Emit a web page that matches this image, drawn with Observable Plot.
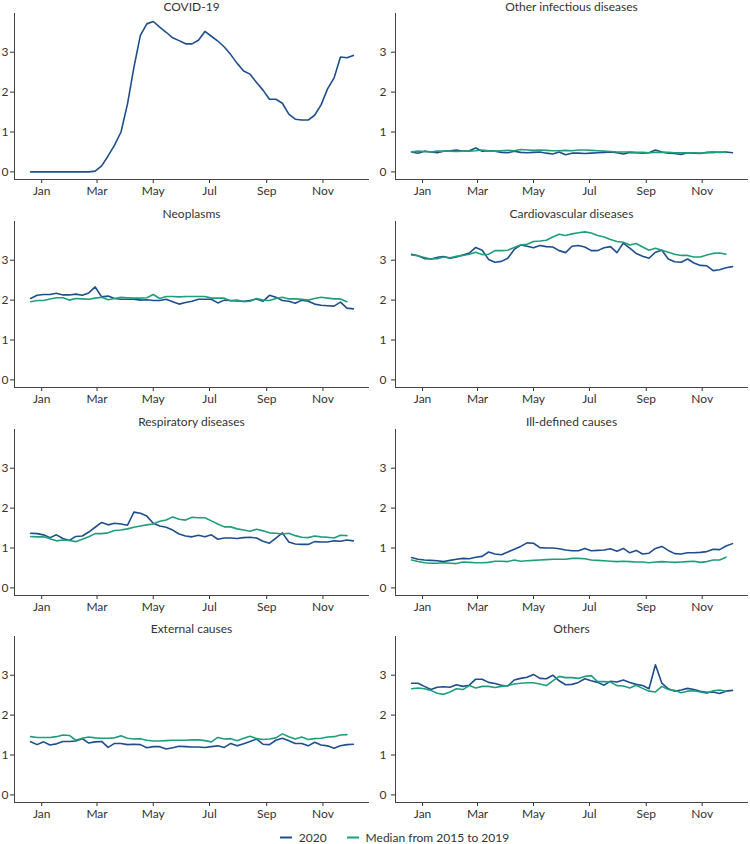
<!DOCTYPE html>
<html>
<head>
<meta charset="utf-8">
<script src="https://cdn.jsdelivr.net/npm/d3@7"></script>
<script src="https://cdn.jsdelivr.net/npm/@observablehq/plot@0.6"></script>
<style>
  html, body { margin: 0; padding: 0; background: #fff; }
  #root { position: relative; width: 750px; height: 844px; overflow: hidden; font-family: Lato, "Open Sans", sans-serif; color: #333; }
  .ptitle { position: absolute; text-align: center; font-size: 12px; line-height: 13px; color: #333; white-space: nowrap; }
  .panel { position: absolute; }
  #legend { position: absolute; top: 831px; left: 0; width: 789px; height: 13px; display: flex; justify-content: center; align-items: center; font-size: 12px; line-height: 13px; color: #333; }
  #legend .item { display: flex; align-items: center; }
</style>
</head>
<body>
<div id="root"></div>
<script>
// ---- weekly dates (x) ----
const weeks = ["2019-12-20","2019-12-27","2020-01-03","2020-01-10","2020-01-17","2020-01-24","2020-01-31","2020-02-07","2020-02-14","2020-02-21",
  "2020-02-28","2020-03-06","2020-03-13","2020-03-20","2020-03-27","2020-04-03","2020-04-10","2020-04-17","2020-04-24","2020-05-01",
  "2020-05-08","2020-05-15","2020-05-22","2020-05-29","2020-06-05","2020-06-12","2020-06-19","2020-06-26","2020-07-03","2020-07-10",
  "2020-07-17","2020-07-24","2020-07-31","2020-08-07","2020-08-14","2020-08-21","2020-08-28","2020-09-04","2020-09-11","2020-09-18",
  "2020-09-25","2020-10-02","2020-10-09","2020-10-16","2020-10-23","2020-10-30","2020-11-06","2020-11-13","2020-11-20","2020-11-27",
  "2020-12-04"];
const monthTicks = ["2020-01-01","2020-03-01","2020-05-01","2020-07-01","2020-09-01","2020-11-01"];
const yTicks = [0, 1, 2, 3];
const seriesNames = ["2020", "Median from 2015 to 2019"];
const seriesColors = ["#1f4e8c", "#1f9e7a"];
const panelTitles = ["COVID-19","Other infectious diseases","Neoplasms","Cardiovascular diseases","Respiratory diseases","Ill-defined causes","External causes","Others"];

// ---- series values ----
const covid2020 = [0,0,0,0,0,0,0,0,0,0, 0.02,0.15,0.4,0.67,1.0,1.7,2.62,3.42,3.71,3.77, 3.63,3.5,3.36,3.29,3.21,3.21,3.3,3.52,3.4,3.28,
  3.13,2.94,2.72,2.53,2.45,2.24,2.05,1.82,1.82,1.72, 1.45,1.32,1.3,1.3,1.42,1.68,2.08,2.35,2.88,2.86, 2.92];
const covidMedian = [];

const otherInf2020 = [0.5,0.47,0.52,0.5,0.48,0.52,0.53,0.55,0.52,0.53, 0.6,0.52,0.53,0.52,0.49,0.48,0.52,0.49,0.48,0.49,
  0.5,0.47,0.45,0.5,0.43,0.47,0.47,0.46,0.47,0.48, 0.49,0.5,0.48,0.45,0.49,0.48,0.47,0.48,0.55,0.5,
  0.47,0.46,0.44,0.48,0.47,0.46,0.49,0.5,0.49,0.5, 0.48];
const otherInfMedian = [0.5,0.52,0.51,0.5,0.52,0.52,0.52,0.51,0.52,0.52, 0.53,0.55,0.53,0.52,0.53,0.54,0.53,0.56,0.55,0.54,
  0.55,0.54,0.53,0.53,0.54,0.53,0.55,0.55,0.54,0.53, 0.52,0.51,0.5,0.5,0.5,0.49,0.49,0.48,0.49,0.49,
  0.49,0.48,0.48,0.48,0.48,0.47,0.48,0.48,0.5,0.49];

const neo2020 = [2.04,2.12,2.14,2.14,2.17,2.13,2.13,2.15,2.12,2.18, 2.33,2.08,2.1,2.04,2.02,2.02,2.02,2.0,2.01,1.99,
  1.99,2.02,1.96,1.9,1.94,1.97,2.02,2.02,2.02,1.93, 2.0,1.99,1.98,1.97,1.99,2.03,1.97,2.12,2.07,1.99,
  1.97,1.92,2.0,1.97,1.9,1.87,1.86,1.85,1.95,1.8, 1.78];
const neoMedian = [1.96,1.99,1.99,2.03,2.06,2.06,2.0,2.04,2.03,2.02, 2.05,2.07,2.01,2.04,2.07,2.06,2.05,2.05,2.06,2.14,
  2.04,2.09,2.09,2.08,2.09,2.09,2.09,2.09,2.05,2.05, 2.05,1.98,2.0,1.96,1.97,2.04,2.0,1.99,2.04,2.07,
  2.03,2.03,2.02,2.0,2.04,2.07,2.05,2.03,2.03,1.96];

const cardio2020 = [3.15,3.11,3.04,3.03,3.07,3.09,3.05,3.08,3.13,3.18, 3.32,3.25,3.02,2.95,2.97,3.05,3.27,3.38,3.35,3.31,
  3.37,3.34,3.33,3.24,3.19,3.35,3.37,3.33,3.24,3.24, 3.31,3.34,3.19,3.43,3.3,3.17,3.1,3.05,3.2,3.25,
  3.03,2.96,2.95,3.03,2.93,2.87,2.86,2.74,2.76,2.81, 2.84];
const cardioMedian = [3.13,3.11,3.07,3.03,3.04,3.08,3.06,3.1,3.12,3.15, 3.2,3.14,3.15,3.24,3.24,3.25,3.32,3.38,3.4,3.47,
  3.48,3.5,3.58,3.65,3.62,3.66,3.69,3.71,3.68,3.62, 3.58,3.52,3.47,3.45,3.38,3.42,3.33,3.25,3.3,3.25,
  3.2,3.15,3.12,3.12,3.08,3.08,3.13,3.17,3.18,3.15];

const resp2020 = [1.37,1.36,1.33,1.26,1.33,1.24,1.19,1.29,1.3,1.4, 1.52,1.64,1.58,1.62,1.6,1.57,1.9,1.87,1.8,1.62,
  1.55,1.52,1.45,1.35,1.3,1.28,1.32,1.28,1.33,1.22, 1.25,1.25,1.24,1.26,1.27,1.25,1.17,1.12,1.25,1.38,
  1.15,1.1,1.09,1.09,1.16,1.15,1.15,1.18,1.17,1.2, 1.18];
const respMedian = [1.29,1.28,1.28,1.23,1.18,1.2,1.19,1.16,1.22,1.28, 1.36,1.36,1.38,1.44,1.45,1.48,1.52,1.55,1.58,1.6,
  1.67,1.7,1.78,1.72,1.7,1.77,1.76,1.76,1.68,1.6, 1.53,1.53,1.48,1.45,1.42,1.47,1.43,1.38,1.37,1.35,
  1.37,1.31,1.27,1.26,1.3,1.28,1.27,1.25,1.32,1.31];

const illDef2020 = [0.76,0.72,0.7,0.69,0.68,0.66,0.69,0.72,0.74,0.73, 0.77,0.79,0.9,0.85,0.83,0.9,0.97,1.04,1.13,1.12,
  1.01,1.0,1.0,0.98,0.95,0.93,0.93,0.99,0.93,0.94, 0.95,0.98,0.92,0.99,0.88,0.94,0.85,0.87,0.99,1.04,
  0.94,0.86,0.85,0.88,0.88,0.89,0.91,0.97,0.96,1.05, 1.11];
const illDefMedian = [0.7,0.66,0.63,0.62,0.62,0.63,0.62,0.61,0.65,0.64, 0.63,0.63,0.64,0.67,0.67,0.66,0.7,0.67,0.68,0.69,
  0.7,0.71,0.72,0.72,0.72,0.74,0.74,0.73,0.7,0.69, 0.68,0.67,0.66,0.67,0.66,0.65,0.65,0.63,0.65,0.66,
  0.65,0.64,0.65,0.66,0.67,0.64,0.66,0.7,0.7,0.77];

const ext2020 = [1.33,1.26,1.33,1.25,1.28,1.34,1.34,1.35,1.41,1.3, 1.33,1.34,1.19,1.29,1.29,1.26,1.27,1.26,1.18,1.21,
  1.21,1.15,1.18,1.22,1.21,1.2,1.2,1.19,1.21,1.23, 1.19,1.29,1.23,1.28,1.34,1.4,1.27,1.26,1.37,1.42,
  1.36,1.29,1.29,1.23,1.32,1.25,1.23,1.17,1.23,1.26, 1.27];
const extMedian = [1.46,1.44,1.44,1.44,1.46,1.5,1.49,1.37,1.42,1.45, 1.43,1.42,1.42,1.43,1.48,1.42,1.4,1.41,1.37,1.35,
  1.35,1.36,1.37,1.37,1.37,1.38,1.38,1.36,1.33,1.44, 1.4,1.41,1.36,1.42,1.47,1.41,1.39,1.4,1.43,1.53,
  1.46,1.4,1.45,1.39,1.41,1.42,1.45,1.46,1.5,1.51];

const others2020 = [2.8,2.8,2.72,2.64,2.7,2.71,2.7,2.76,2.72,2.75, 2.9,2.9,2.82,2.79,2.75,2.73,2.88,2.92,2.95,3.02,
  2.92,2.91,3.0,2.86,2.76,2.77,2.82,2.91,2.86,2.82, 2.75,2.85,2.83,2.88,2.82,2.77,2.74,2.66,3.26,2.8,
  2.66,2.6,2.63,2.67,2.64,2.6,2.57,2.58,2.54,2.6, 2.62];
const othersMedian = [2.66,2.68,2.66,2.62,2.55,2.52,2.58,2.66,2.64,2.74, 2.68,2.72,2.72,2.69,2.72,2.74,2.78,2.8,2.81,2.81,
  2.78,2.74,2.86,2.97,2.94,2.94,2.92,2.97,2.99,2.84, 2.84,2.83,2.74,2.73,2.68,2.75,2.67,2.6,2.58,2.72,
  2.64,2.62,2.56,2.6,2.61,2.58,2.55,2.61,2.63,2.6];

const series2020 = [covid2020, otherInf2020, neo2020, cardio2020, resp2020, illDef2020, ext2020, others2020];
const seriesMedian = [covidMedian, otherInfMedian, neoMedian, cardioMedian, respMedian, illDefMedian, extMedian, othersMedian];

// ---- scales shared by all panels ----
const xDomain = [new Date("2019-12-02T12:00:00Z"), new Date("2020-12-21T12:00:00Z")];
const yDomain = [-0.19, 3.97];

const root = document.getElementById("root");

panelTitles.forEach((title, k) => {
  const col = k % 2, row = Math.floor(k / 2);
  const top = Math.round(row * 207.8);
  const cfg = col === 0
    ? {left: -20, ml: 34, pw: 355, mr: 6, ts: 4, tp: 2}
    : {left: 360, ml: 35, pw: 353, mr: 2, ts: 4, tp: 5};
  const rows = [
    ...series2020[k].map((v, i) => ({date: new Date(weeks[i]), value: v, series: seriesNames[0]})),
    ...seriesMedian[k].map((v, i) => ({date: new Date(weeks[i]), value: v, series: seriesNames[1]}))
  ];
  const chart = Plot.plot({
    width: cfg.ml + cfg.pw + cfg.mr,
    height: 200,
    marginLeft: cfg.ml, marginRight: cfg.mr, marginTop: 13, marginBottom: 21,
    style: {background: "transparent", overflow: "visible", fontFamily: "Lato, 'Open Sans', sans-serif", fontSize: "12px", color: "#333"},
    x: {type: "utc", domain: xDomain, ticks: monthTicks.map(d => new Date(d)), tickFormat: "%b", tickSize: 4, tickPadding: 3, label: null},
    y: {domain: yDomain, ticks: yTicks, tickFormat: d => String(d), tickSize: cfg.ts, tickPadding: cfg.tp, label: null},
    color: {domain: seriesNames, range: seriesColors},
    marks: [
      Plot.ruleX([xDomain[0]], {stroke: "#444", strokeWidth: 1}),
      Plot.ruleY([yDomain[0]], {stroke: "#444", strokeWidth: 1}),
      Plot.line(rows, {x: "date", y: "value", stroke: "series", z: "series", strokeWidth: 1.6})
    ]
  });
  const wrap = document.createElement("div");
  wrap.className = "panel";
  wrap.style.left = cfg.left + "px";
  wrap.style.top = top + "px";
  wrap.appendChild(chart);
  root.appendChild(wrap);

  const t = document.createElement("div");
  t.className = "ptitle";
  t.textContent = title;
  t.style.left = (cfg.left + cfg.ml) + "px";
  t.style.width = cfg.pw + "px";
  t.style.top = Math.max(0, top - 1) + "px";
  root.appendChild(t);
});

// legend
const legend = document.createElement("div");
legend.id = "legend";
seriesNames.forEach((name, i) => {
  const item = document.createElement("div");
  item.className = "item";
  if (i > 0) item.style.marginLeft = "20px";
  item.innerHTML = `<svg width="12" height="13"><line x1="0" x2="12" y1="6.5" y2="6.5" stroke="${seriesColors[i]}" stroke-width="2"/></svg><span style="margin-left:7px">${name}</span>`;
  legend.appendChild(item);
});
root.appendChild(legend);
</script>
</body>
</html>
